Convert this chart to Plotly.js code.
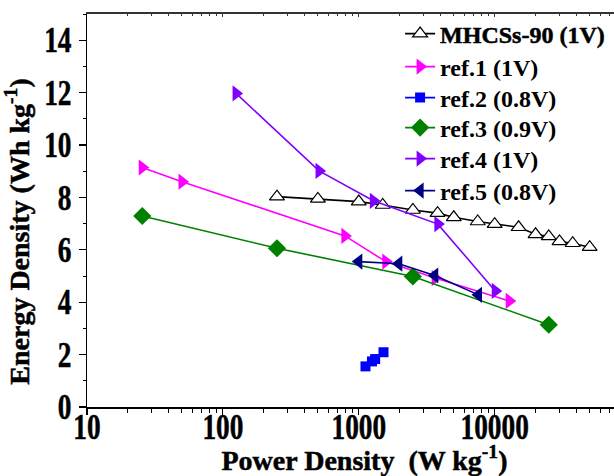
<!DOCTYPE html>
<html>
<head>
<meta charset="utf-8">
<script src="https://cdn.plot.ly/plotly-3.0.1.min.js"></script>
<style>
html,body{margin:0;padding:0;background:#fff;}
#chart{width:614px;height:476px;}
#chart .xtick text, #chart .ytick text, #chart .legendtext, #chart .xtitle, #chart .ytitle {stroke:#000; stroke-width:0.5px;}
</style>
</head>
<body>
<div id="chart"></div>
<script>
// Power density (W/kg) and energy density (Wh/kg)
var mhcsP = [250, 500, 1000, 1500, 2500, 3800, 5000, 7500, 10000, 15000, 20000, 25000, 30000, 37500, 50000];
var mhcsE = [8.03, 7.94, 7.84, 7.71, 7.52, 7.40, 7.24, 7.08, 6.98, 6.86, 6.59, 6.51, 6.32, 6.25, 6.10];
var ref1P = [25.5, 50, 790, 1580, 3650, 12800];
var ref1E = [9.14, 8.60, 6.53, 5.55, 4.92, 4.05];
var ref2P = [1120, 1250, 1320, 1520];
var ref2E = [1.55, 1.74, 1.83, 2.09];
var ref3P = [25.5, 250, 2500, 25000];
var ref3E = [7.29, 6.06, 4.98, 3.14];
var ref4P = [125, 510, 1280, 3820, 10100];
var ref4E = [11.97, 9.01, 7.87, 6.98, 4.43];
var ref5P = [1000, 1970, 3620, 7600];
var ref5E = [5.55, 5.47, 5.02, 4.28];
var seriesNames = ["MHCSs-90 (1V)", "ref.1 (1V)", "ref.2 (0.8V)", "ref.3 (0.9V)", "ref.4 (1V)", "ref.5 (0.8V)"];
var yTickVals = [0, 2, 4, 6, 8, 10, 12, 14];
var xTickVals = [10, 100, 1000, 10000];

var FONT = "Liberation Serif";
var legendIds = ["legend", "legend2", "legend3", "legend4", "legend5", "legend6"];
var legendRowPx = [34, 67, 98, 128, 159, 191];

function tr(i, x, y, color, symbol, size, fill) {
  return {
    x: x, y: y, name: seriesNames[i], type: "scatter", mode: "lines+markers",
    legend: legendIds[i],
    line: {color: color, width: 1.6},
    marker: {symbol: symbol, size: size, color: fill || color,
             line: {color: color, width: fill ? 1.2 : 0}}
  };
}

var data = [
  tr(0, mhcsP, mhcsE, "#000000", "triangle-up", 13, "#ffffff"),
  tr(1, ref1P, ref1E, "#ff00ff", "triangle-right", 14),
  tr(2, ref2P, ref2E, "#0000ff", "square", 10),
  tr(3, ref3P, ref3E, "#008000", "diamond", 14),
  tr(4, ref4P, ref4E, "#8000ff", "triangle-right", 14),
  tr(5, ref5P, ref5E, "#000080", "triangle-left", 14)
];

var NB = "\u00a0", ZW = "\u200b";
var PLOT_TOP = 14, PLOT_BOTTOM = 407;
var layout = {
  width: 614, height: 476,
  margin: {l: 87, r: 0, t: PLOT_TOP, b: 476 - PLOT_BOTTOM, pad: 0},
  paper_bgcolor: "#ffffff", plot_bgcolor: "#ffffff",
  font: {family: FONT, color: "#000", size: 24, weight: "bold"},
  showlegend: true,
  xaxis: {
    type: "log", range: [1, 4.878],
    showline: true, linecolor: "#000", linewidth: 1.5, mirror: false,
    showgrid: false, zeroline: false,
    ticks: "outside", ticklen: 6, tickwidth: 1.2, tickcolor: "#000",
    tickvals: xTickVals, tickformat: "d", ticklabelstandoff: -18,
    minor: {ticks: "outside", ticklen: 4, tickwidth: 1, tickcolor: "#000", dtick: "D1", showgrid: false},
    tickfont: {family: FONT, size: 35, color: "#000", weight: "bold"},
    title: {text: ZW + NB + NB + NB + NB + "Power Density" + NB + NB + "(W kg<sup>-1</sup>)", font: {family: FONT, size: 28, color: "#000", weight: "bold"}, standoff: 12}
  },
  xaxis2: {
    type: "log", range: [1, 4.878], overlaying: "x", side: "top",
    showline: true, linecolor: "#333", linewidth: 1.8,
    showgrid: false, zeroline: false, showticklabels: false,
    ticks: "inside", ticklen: 3, tickwidth: 1, tickcolor: "#333",
    tickvals: xTickVals,
    minor: {ticks: "inside", ticklen: 2, tickwidth: 1, tickcolor: "#333", dtick: "D1", showgrid: false}
  },
  yaxis: {
    range: [0, 15],
    showline: true, linecolor: "#000", linewidth: 1.5,
    showgrid: false, zeroline: false,
    ticks: "outside", ticklen: 7, tickwidth: 1.2, tickcolor: "#000",
    tickvals: yTickVals,
    minor: {ticks: "outside", ticklen: 3, tickwidth: 1, tickcolor: "#000", dtick: 1, showgrid: false},
    tickfont: {family: FONT, size: 35, color: "#000", weight: "bold"},
    title: {text: "Energy Density (Wh kg<sup>-1</sup>)" + NB + NB + NB + NB + NB + NB + ZW, font: {family: FONT, size: 28, color: "#000", weight: "bold"}, standoff: 4}
  }
};

legendIds.forEach(function (id, i) {
  layout[id] = {
    x: (398 - 87) / 527 + 0.004, xanchor: "left",
    y: (PLOT_BOTTOM - legendRowPx[i]) / (PLOT_BOTTOM - PLOT_TOP), yanchor: "middle",
    bgcolor: "rgba(0,0,0,0)", borderwidth: 0,
    font: {family: FONT, size: 24, color: "#000", weight: "bold"}
  };
});

var dummy = {x: [10], y: [0], xaxis: "x2", yaxis: "y", type: "scatter", mode: "markers",
             marker: {opacity: 0}, showlegend: false, hoverinfo: "skip"};

Plotly.newPlot("chart", data.concat([dummy]), layout, {staticPlot: true, displayModeBar: false}).then(function () {
  document.querySelectorAll("#chart .xtick text, #chart .ytick text").forEach(function (t) {
    var w = t.getComputedTextLength();
    t.setAttribute("textLength", (w * 0.78).toFixed(2));
    t.setAttribute("lengthAdjust", "spacingAndGlyphs");
  });
});
</script>
</body>
</html>
